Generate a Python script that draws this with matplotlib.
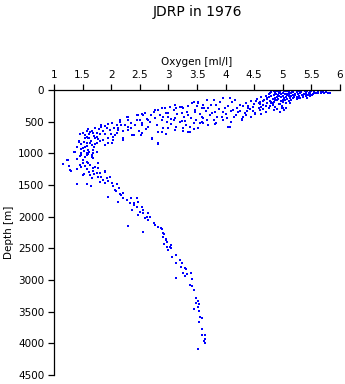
import numpy as np
import matplotlib
matplotlib.use('Agg')
import matplotlib.pyplot as plt
from matplotlib.ticker import FormatStrFormatter

# (oxygen [ml/l], depth [m]), grouped by depth layer
surface_pts = [
    (4.82, 5), (4.90, 8), (4.98, 3), (5.05, 10), (5.12, 4), (5.20, 7), (5.28, 12), (5.35, 5),
    (5.42, 9), (5.50, 14), (5.58, 6), (5.66, 18),
    (4.80, 25), (4.88, 20), (4.95, 30), (5.02, 22), (5.10, 28), (5.18, 35), (5.25, 24), (5.32, 32),
    (5.40, 26), (5.48, 38), (5.55, 30), (5.62, 42), (5.70, 34), (5.76, 32),
    (4.78, 48), (4.86, 55), (4.93, 44), (5.00, 52), (5.08, 60), (5.15, 46), (5.22, 58), (5.30, 50),
    (5.37, 62), (5.45, 55), (5.52, 66), (5.60, 48), (5.83, 53), (5.79, 40),
    (4.75, 70), (4.84, 80), (4.92, 72), (5.00, 88), (5.07, 76), (5.14, 92), (5.21, 82), (5.28, 95),
    (5.36, 84), (5.44, 74), (5.51, 78),
    (4.70, 100), (4.80, 92), (4.90, 105), (4.97, 115), (5.05, 108), (5.12, 120), (5.20, 112),
    (5.27, 125), (5.35, 118), (5.48, 100),
    (4.62, 118), (4.72, 130), (4.83, 140), (4.92, 135), (5.00, 150), (5.08, 142), (5.17, 132), (5.30, 128),
    (4.55, 145), (4.68, 160), (4.78, 170), (4.87, 155), (4.96, 178), (5.04, 165), (5.15, 150),
    (4.45, 175), (4.60, 190), (4.72, 205), (4.85, 195), (4.93, 215), (5.05, 200), (5.24, 147),
    (5.42, 121), (5.53, 68),
    (4.35, 210), (4.50, 226), (4.65, 230), (4.83, 240), (4.98, 260), (4.54, 174),
    (4.30, 250), (4.48, 262), (4.62, 270), (4.78, 253), (4.95, 226), (4.40, 253),
    (4.20, 290), (4.42, 300), (4.58, 285), (4.90, 305), (5.05, 280), (4.66, 305), (4.75, 290),
    (4.98, 290), (5.01, 279),
    (4.38, 330), (4.70, 340), (4.85, 320), (4.48, 332), (4.34, 358), (4.51, 384), (4.60, 316),
    (4.51, 368), (4.28, 463), (4.28, 474), (4.89, 305), (4.80, 211), (4.72, 147), (4.83, 200),
    (4.60, 226), (5.13, 200),
    (4.85, 12), (4.93, 16), (5.01, 6), (5.08, 18), (5.16, 14), (5.24, 3), (5.31, 20), (5.39, 15),
    (5.46, 4), (5.54, 20), (5.62, 10), (5.70, 22),
    (4.88, 65), (4.96, 62), (5.04, 70), (5.11, 66), (5.18, 72), (5.26, 68), (5.33, 74), (5.41, 64),
    (5.48, 60), (5.56, 55), (5.66, 50), (5.72, 45),
    (4.76, 110), (4.86, 120), (4.94, 95), (5.02, 125), (5.10, 100), (5.24, 105), (5.40, 95),
    (4.66, 175), (4.80, 185), (4.90, 160), (5.00, 190), (5.10, 170), (4.58, 200), (4.70, 250),
    (4.86, 270), (4.95, 340), (5.02, 310), (4.40, 280), (4.25, 330), (4.45, 420), (4.62, 380),
    (4.35, 400),
]

thermocline_pts = [
    (3.44, 184), (3.52, 211), (3.47, 316), (3.58, 290), (3.49, 474), (3.61, 447), (3.55, 526),
    (3.67, 158), (3.70, 290), (3.76, 368), (3.79, 158), (3.84, 237), (3.90, 184), (3.96, 132),
    (3.99, 290), (3.93, 421), (4.02, 447), (3.84, 526), (4.05, 579), (4.11, 184), (4.13, 316),
    (4.19, 395), (4.25, 237), (4.16, 158), (4.08, 132),
    (2.56, 395), (2.53, 526), (2.65, 579), (2.74, 342), (2.82, 316), (2.85, 395), (2.94, 290),
    (3.03, 263), (3.00, 368), (3.09, 316), (3.14, 290), (3.20, 263), (3.26, 290), (3.32, 342),
    (2.97, 500), (3.09, 474), (3.20, 500), (3.29, 490), (3.14, 579), (3.26, 605), (3.38, 579),
    (2.91, 605), (2.82, 658), (2.71, 763), (2.82, 842), (3.38, 658),
    (3.61, 526), (3.81, 542), (4.08, 579), (4.02, 447), (4.28, 474),
    (2.82, 858), (2.71, 774), (2.53, 684), (3.12, 632), (3.35, 658), (3.52, 605), (3.58, 500),
    (3.44, 526), (3.23, 490), (3.00, 605), (2.88, 658), (2.77, 316), (2.88, 290), (3.03, 263),
    (3.12, 237), (3.23, 263), (3.41, 211), (3.52, 184), (3.61, 237), (2.47, 395), (2.59, 368),
    (2.30, 421), (2.15, 474), (2.42, 553), (2.30, 579), (2.18, 553), (2.12, 632), (2.53, 553),
    (2.68, 500), (2.77, 447), (2.88, 474), (3.12, 447), (3.00, 421), (3.23, 368), (3.35, 395),
    (3.47, 342),
    (3.65, 330), (3.72, 400), (3.88, 300), (4.05, 260), (3.95, 350), (3.35, 250), (3.28, 420),
    (3.05, 540), (2.62, 450), (2.95, 360), (3.55, 380), (3.80, 470), (3.70, 560), (4.15, 420),
    (4.22, 350),
    (3.50, 260), (3.62, 290), (3.75, 240), (3.85, 420), (3.95, 480), (4.10, 500), (3.68, 470),
    (3.40, 440), (3.15, 380), (2.90, 420), (2.70, 400), (2.80, 550), (3.05, 460), (3.30, 560),
    (3.45, 620), (4.00, 380), (4.30, 420), (4.10, 330), (3.82, 350), (3.58, 430), (2.65, 470),
    (2.45, 480), (2.35, 520), (2.60, 620), (2.95, 700), (3.25, 650),
]

bend_pts = [
    (1.43, 805), (1.36, 984), (1.48, 990), (1.54, 711), (1.60, 763), (1.57, 842), (1.66, 869),
    (1.51, 921), (1.60, 947), (1.57, 1026), (1.69, 1000), (1.72, 605), (1.76, 674), (1.83, 579),
    (1.89, 568), (1.86, 790), (1.77, 779), (1.95, 842), (1.75, 842), (2.01, 526), (1.98, 632),
    (2.07, 711), (2.15, 500), (2.12, 605), (2.24, 553), (2.27, 421), (2.30, 632), (2.39, 711),
    (2.45, 395), (2.50, 474), (2.54, 379), (2.52, 711), (2.21, 790), (2.04, 790),
    (2.36, 711), (2.21, 763), (2.04, 737), (1.89, 869), (2.01, 842), (1.43, 816), (1.37, 974),
    (1.83, 553), (1.63, 658), (1.57, 737),
    (1.35, 974), (1.48, 1026), (1.60, 1011), (1.66, 1053), (1.75, 974),
    (1.50, 680), (1.62, 700), (1.70, 720), (1.55, 760), (1.65, 800), (1.48, 850), (1.58, 880),
    (1.70, 900), (1.52, 960), (1.62, 980), (1.45, 1040), (1.55, 1060), (1.68, 940), (1.80, 700),
    (1.66, 640), (1.78, 620), (1.92, 600), (1.85, 650), (1.60, 620), (1.72, 760), (1.63, 840),
    (1.54, 900), (1.67, 1020), (1.50, 1100), (2.10, 560), (2.00, 700), (1.95, 760),
    (1.45, 700), (1.58, 650), (1.68, 680), (1.75, 740), (1.52, 820), (1.62, 760), (1.72, 860),
    (1.48, 930), (1.58, 1000), (1.68, 1080), (1.40, 900), (1.80, 800), (1.90, 700), (2.05, 600),
    (2.20, 650), (2.35, 600), (2.48, 640), (2.10, 680), (1.95, 540), (2.30, 480),
]

minimum_pts = [
    (1.23, 1105), (1.16, 1168), (1.26, 1200), (1.41, 1095), (1.29, 1274), (1.51, 1158), (1.57, 1132),
    (1.63, 1184), (1.48, 1211), (1.72, 1211), (1.77, 1237), (1.69, 1274), (1.75, 1316), (1.53, 1326),
    (1.63, 1342), (1.89, 1290), (1.83, 1369), (1.92, 1395), (1.98, 1379), (1.80, 1448), (1.89, 1474),
    (1.41, 1490), (1.57, 1484), (1.65, 1516), (1.25, 1105), (1.28, 1263), (1.40, 1253), (1.51, 1342),
    (1.66, 1395), (1.77, 1369), (1.77, 1158), (1.89, 1279), (1.22, 1105),
    (1.55, 1200), (1.60, 1160), (1.68, 1230), (1.62, 1290), (1.70, 1330), (1.80, 1310), (1.85, 1420),
    (1.95, 1440), (1.58, 1250), (1.45, 1180),
]

slope_pts = [
    (2.01, 1463), (2.04, 1516), (2.10, 1490), (2.07, 1579), (2.14, 1553), (2.21, 1621), (2.18, 1658),
    (1.94, 1684), (2.12, 1763), (2.27, 1737), (2.35, 1711), (2.45, 1711), (2.47, 1763), (2.33, 1790),
    (2.39, 1816), (2.36, 1895), (2.45, 1853), (2.54, 1853), (2.50, 1921), (2.56, 1948), (2.47, 1974),
    (2.64, 1948), (2.59, 2026), (2.68, 2000), (2.64, 2053), (2.30, 2148), (2.77, 2132), (2.82, 2158),
    (2.87, 2184), (2.56, 2237), (2.74, 2105),
    (2.08, 1600), (2.15, 1640), (2.20, 1700), (2.40, 1780), (2.55, 1900), (2.62, 2000),
]

deep_pts = [
    (2.91, 2316), (3.03, 2474), (3.20, 2684), (3.29, 2816), (2.90, 2260), (2.95, 2350), (2.98, 2400),
    (2.93, 2430), (3.00, 2526), (3.06, 2642), (3.13, 2605), (3.14, 2737), (3.23, 2726),
    (3.22, 2800), (3.31, 2832), (3.14, 2963), (3.26, 2884), (3.32, 2905), (3.29, 2937), (3.39, 2895),
    (3.41, 2990), (3.37, 3079), (3.41, 3095), (3.44, 3158), (3.49, 3290), (3.51, 3327), (3.48, 3369),
    (3.54, 3379), (3.52, 3432), (3.45, 3463), (3.54, 3490), (3.55, 3580), (3.58, 3595), (3.54, 3658),
    (3.58, 3774), (3.58, 3868), (3.64, 3874), (3.64, 3937), (3.62, 3958), (3.64, 3990), (3.52, 4090),
    (2.88, 2200), (2.92, 2280), (2.96, 2370), (3.05, 2440), (2.98, 2480), (3.04, 2500),
]

x_ticks = np.arange(1, 6.01, 0.5)
y_ticks = np.arange(0, 4501, 500)

all_pts = np.array(surface_pts + thermocline_pts + bend_pts + minimum_pts + slope_pts + deep_pts)
oxygen = all_pts[:, 0]
depth = all_pts[:, 1]

plt.rcParams['font.family'] = ['DejaVu Sans']

W, H = 345, 384
fig = plt.figure(figsize=(W / 100, H / 100), dpi=100)
ax = fig.add_axes([54 / W, 1 - 375 / H, (340 - 54) / W, (375 - 90) / H])

ax.scatter(oxygen, depth, s=4, marker='s', color='#0000ff', linewidths=0)

ax.set_xlim(1, 6)
ax.set_ylim(4500, 0)
ax.xaxis.tick_top()
ax.xaxis.set_label_position('top')
ax.set_xticks(x_ticks)
ax.xaxis.set_major_formatter(FormatStrFormatter('%g'))
ax.set_yticks(y_ticks)

for s in ['right', 'bottom']:
    ax.spines[s].set_visible(False)
for s in ['left', 'top']:
    ax.spines[s].set_linewidth(0.9)

ax.tick_params(direction='out', length=4, width=0.9, labelsize=7.5, pad=3)
ax.set_xlabel('Oxygen [ml/l]', fontsize=7.5, labelpad=4)
ax.set_ylabel('Depth [m]', fontsize=7.5, labelpad=3)

fig.text(197 / W, 1 - 12 / H, 'JDRP in 1976', ha='center', va='center', fontsize=10)

fig.savefig('out.png', dpi=100)
